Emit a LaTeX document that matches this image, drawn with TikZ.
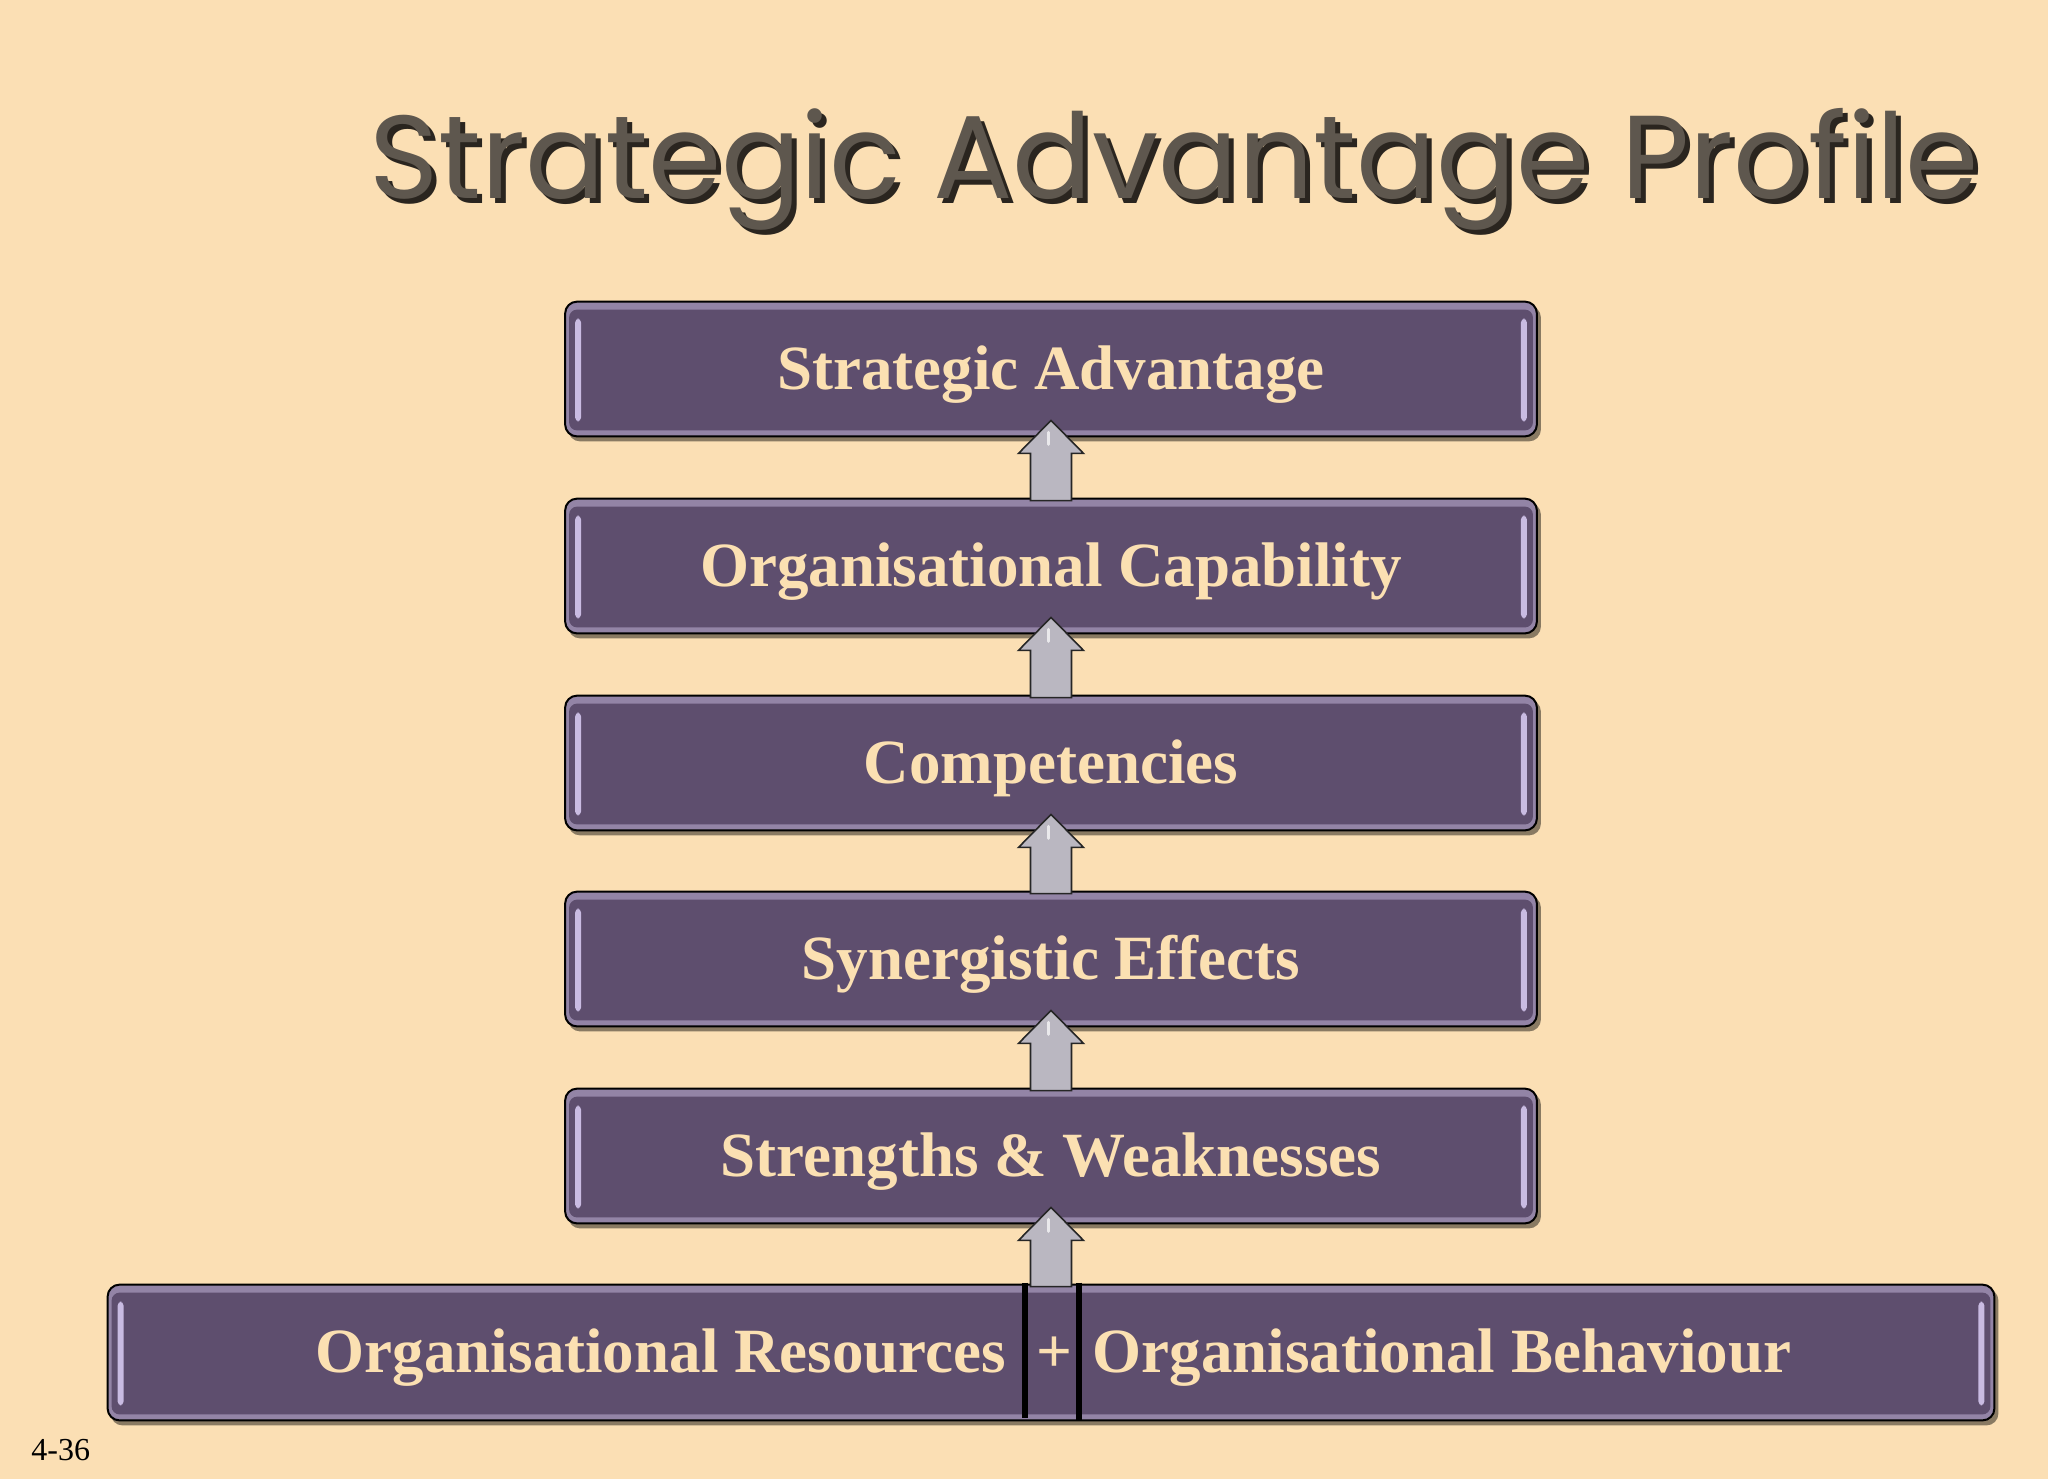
\documentclass[tikz,border=0pt]{standalone}
\usepackage{fontspec}
\setmainfont{Liberation Serif}
\newfontfamily\titlefont{Poppins}
\usetikzlibrary{calc}
\pgfdeclarelayer{back}
\pgfdeclarelayer{bg}
\pgfsetlayers{back,bg,main}
\definecolor{bgc}{HTML}{FBDFB4}
\definecolor{boxc}{HTML}{5E4E6E}
\definecolor{rimc}{HTML}{9384A6}
\definecolor{hic}{HTML}{C9BBE2}
\definecolor{textc}{HTML}{FBE0B2}
\definecolor{titlec}{HTML}{5E574E}
\definecolor{tshadc}{HTML}{2A251F}
\definecolor{arrc}{HTML}{BAB7C1}
\tikzset{
  stagebox/.style={minimum width=485.5pt, minimum height=67pt, inner sep=0pt,
    text height=22pt, text depth=2pt,
    text=textc, font=\bfseries\fontsize{31.5}{36}\selectfont},
  boxtext/.style={inner sep=0pt, text height=22pt, text depth=2pt, text=textc, font=\bfseries\fontsize{31.5}{36}\selectfont},
  titletext/.style={font=\titlefont\fontsize{59}{59}\selectfont, anchor=base, inner sep=0pt},
  blockarrow/.style={fill=arrc, draw=black!85, line width=0.8pt, line join=miter},
  divider/.style={line width=3pt, black}
}
\newcommand\boxdeco[1]{%
\begin{pgfonlayer}{bg}
 \fill[black, opacity=0.45, rounded corners=6pt] ($(#1.north west)+(3,4)$) rectangle ($(#1.south east)+(4,5)$);
 \filldraw[fill=rimc, draw=black, line width=1pt, rounded corners=6pt] (#1.north west) rectangle (#1.south east);
 \fill[boxc, rounded corners=4pt] ($(#1.north west)+(4,8)$) rectangle ($(#1.south east)+(-4,-6)$);
 \fill[hic, rounded corners=2pt] ($(#1.north west)+(10,17)$) rectangle ($(#1.south west)+(16,-15)$);
 \fill[hic, rounded corners=2pt] ($(#1.north east)+(-16,17)$) rectangle ($(#1.south east)+(-10,-15)$);
\end{pgfonlayer}}
\newcommand\uparrowblk[2]{%
 \draw[blockarrow] ($(#1.south)+(0,-16)$) -- ($(#1.south)+(32.5,17)$) -- ($(#1.south)+(20.5,17)$)
   -- ($(#2.north)+(20.5,2)$) -- ($(#2.north)+(-20.5,2)$) -- ($(#1.south)+(-20.5,17)$)
   -- ($(#1.south)+(-32.5,17)$) -- cycle;
 \draw[white, opacity=0.7, line width=1.5pt, line cap=round] ($(#1.south)+(-3,-4)$) -- ($(#1.south)+(-3,8)$);
}
\begin{document}
\begin{tikzpicture}[x=0.5pt,y=-0.5pt]
\begin{pgfonlayer}{back}
\fill[bgc] (0,0) rectangle (2048,1479);
\end{pgfonlayer}
\useasboundingbox (0,0) rectangle (2048,1479);

% title with shadow
\node[titletext, text=tshadc] (tshadow) at (1179,203) {Strategic Advantage Profile};
\node[titletext, text=titlec] (title) at (1174,198) {Strategic Advantage Profile};

% stages
\node[stagebox] (sa) at (1051,369) {Strategic Advantage};
\node[stagebox] (oc) at (1051,566) {Organisational Capability};
\node[stagebox] (co) at (1051,763) {Competencies};
\node[stagebox] (se) at (1051,959) {Synergistic Effects};
\node[stagebox] (sw) at (1051,1156) {Strengths \& Weaknesses};
\node[stagebox, minimum width=943pt, minimum height=67.5pt] (base) at (1051,1352.5) {};
\node[boxtext] (res) at (661,1352.5) {Organisational Resources};
\node[boxtext] (plus) at (1054,1352.5) {+};
\node[boxtext] (beh) at (1442,1352.5) {Organisational Behaviour};

\boxdeco{sa}\boxdeco{oc}\boxdeco{co}\boxdeco{se}\boxdeco{sw}\boxdeco{base}

\draw[divider] ($(base.north)+(-26,-2)$) -- ($(base.south)+(-26,-2)$);
\draw[divider] ($(base.north)+(28,-2)$) -- ($(base.south)+(28,0)$);

\uparrowblk{sa}{oc}
\uparrowblk{oc}{co}
\uparrowblk{co}{se}
\uparrowblk{se}{sw}
\uparrowblk{sw}{base}

\node[font=\fontsize{16}{16}\selectfont, anchor=base west, inner sep=0pt] (pg) at (31,1460) {4-36};
\end{tikzpicture}
\end{document}
